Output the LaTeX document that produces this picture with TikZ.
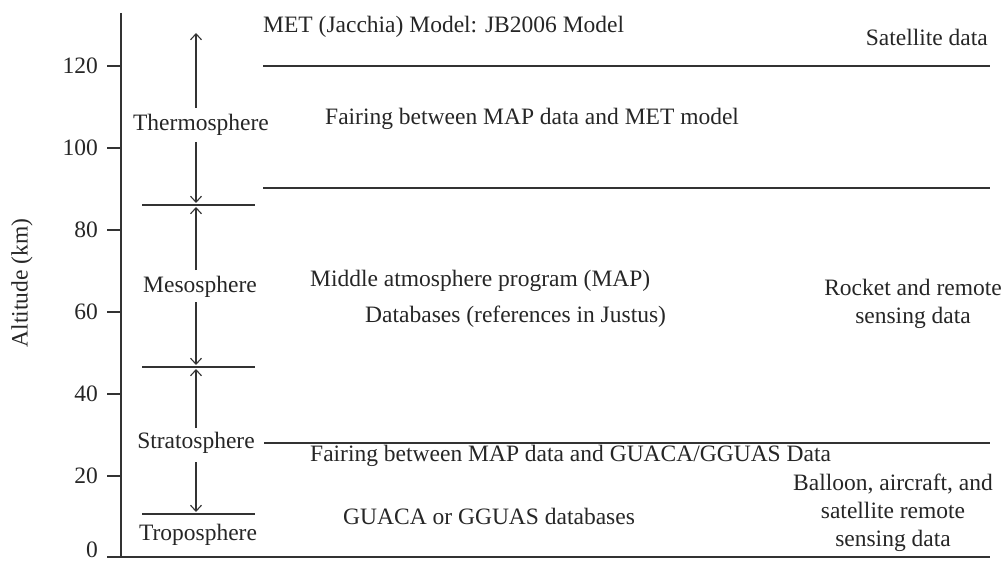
\documentclass[tikz,border=0pt]{standalone}
\usepackage{fontspec}
\setmainfont{Liberation Serif}
\usetikzlibrary{arrows.meta}
\tikzset{
  lbl/.style={font=\fontsize{23.5}{28}\selectfont, inner sep=0pt, text=black!85},
  rule/.style={line width=1.3pt, draw=black!80},
  arr/.style={line width=1.1pt, draw=black!80, -{Straight Barb[length=6pt,width=11pt,line width=1.1pt]}},
}
\begin{document}
\begin{tikzpicture}[x=1pt,y=-1pt]
\useasboundingbox (0,0) rectangle (1008,561);
% axis
\coordinate (atop) at (121,13);
\coordinate (abot) at (121,557);
\draw[rule] (atop) -- (abot);
\foreach \v/\yy/\ly in {120/66/66,100/148/148,80/230/230,60/312/312,40/394/394,20/476/476,0/557/550}{
  \coordinate (t\v) at (107,\yy);
  \draw[rule] (t\v) -- ++(14,0);
  \node[lbl, anchor=east] (n\v) at (98,\ly) {\v};
}
\coordinate (bend) at (990,557);
\draw[rule] (abot) -- (bend);
\node[lbl, rotate=90] (alt) at (22,283) {Altitude (km)};
% right-hand boundary lines
\coordinate (l120a) at (263,66);  \coordinate (l120b) at (990,66);
\coordinate (l90a) at (263,188);  \coordinate (l90b) at (990,188);
\coordinate (l28a) at (264,443);  \coordinate (l28b) at (990,443);
\draw[rule] (l120a) -- (l120b);
\draw[rule] (l90a) -- (l90b);
\draw[rule] (l28a) -- (l28b);
% layer boundaries (short)
\coordinate (m86a) at (142,205); \coordinate (m86b) at (255,205);
\coordinate (m47a) at (142,367); \coordinate (m47b) at (255,367);
\coordinate (m11a) at (142,514); \coordinate (m11b) at (255,514);
\draw[rule] (m86a) -- (m86b);
\draw[rule] (m47a) -- (m47b);
\draw[rule] (m11a) -- (m11b);
% layer names
\node[lbl] (thermo) at (201,125) {Thermosphere};
\node[lbl] (meso) at (200,287) {Mesosphere};
\node[lbl] (strato) at (196,443) {Stratosphere};
\node[lbl] (tropo) at (198,535) {Troposphere};
\coordinate (ts) at (196,108); \coordinate (ttop) at (196,33);
\coordinate (ts2) at (196,142); \coordinate (tb) at (196,203);
\coordinate (ms) at (196,270); \coordinate (mt) at (196,207);
\coordinate (ms2) at (196,302); \coordinate (mb) at (196,365);
\coordinate (ss) at (196,428); \coordinate (st) at (196,369);
\coordinate (ss2) at (196,462); \coordinate (sb) at (196,512);
\draw[arr] (ts) -- (ttop);
\draw[arr] (ts2) -- (tb);
\draw[arr] (ms) -- (mt);
\draw[arr] (ms2) -- (mb);
\draw[arr] (ss) -- (st);
\draw[arr] (ss2) -- (sb);
% texts
\node[lbl, anchor=west] (met) at (263,27) {MET (Jacchia) Model: JB2006 Model};
\node[lbl, anchor=east] (sat) at (988,37) {Satellite data};
\node[lbl, anchor=west] (fair1) at (325,119) {Fairing between MAP data and MET model};
\node[lbl, anchor=west] (map) at (310,281) {Middle atmosphere program (MAP)};
\node[lbl, anchor=west] (db) at (365,317) {Databases (references in Justus)};
\node[lbl, align=center] (rocket) at (913,304) {Rocket and remote\\sensing data};
\node[lbl, anchor=west] (fair2) at (310,456) {Fairing between MAP data and GUACA/GGUAS Data};
\node[lbl, align=center, font=\fontsize{23.5}{28}\selectfont] (balloon) at (893,513) {Balloon, aircraft, and\\satellite remote\\sensing data};
\node[lbl, anchor=west] (guaca) at (343,516) {GUACA or GGUAS databases};
\end{tikzpicture}
\end{document}
